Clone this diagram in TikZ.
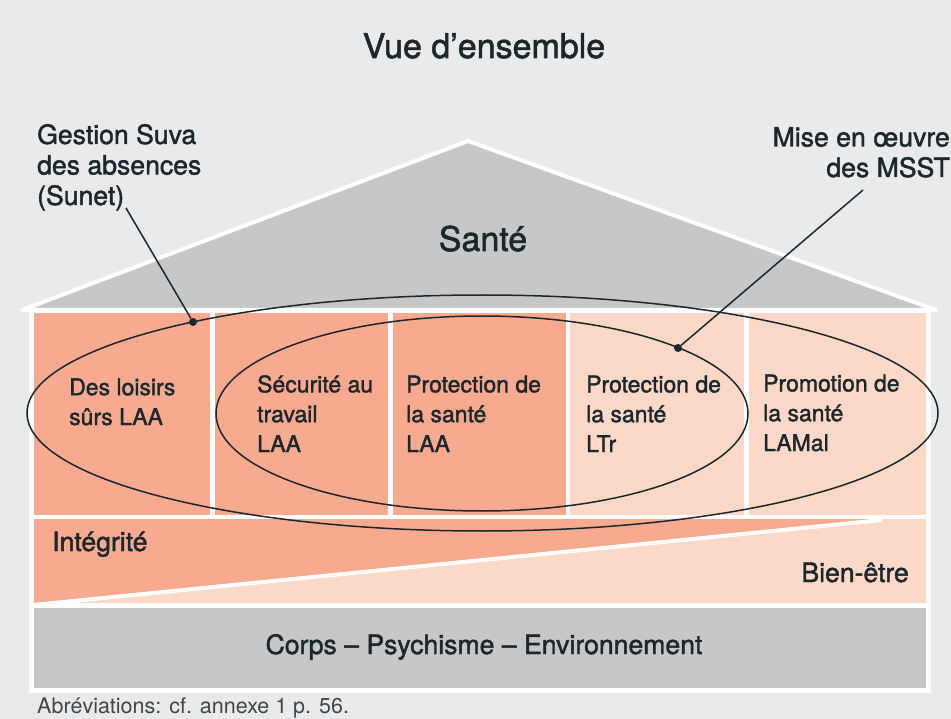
\documentclass[tikz,border=0pt]{standalone}
\usepackage{fontspec}
\setmainfont{TeX Gyre Heros}[FakeBold=1.6]
\newfontfamily\notefont{TeX Gyre Heros}
\definecolor{bggray}{HTML}{E9EAEC}
\definecolor{roofgray}{HTML}{C6C7C9}
\definecolor{salmon}{HTML}{F7AA8F}
\definecolor{pale}{HTML}{FCD8C8}
\definecolor{ink}{HTML}{1C272C}
\tikzset{
  coltext/.style={anchor=base west,inner sep=0,align=left,text=ink,font=\fontsize{23}{29.8}\selectfont},
  bigtext/.style={inner sep=0,text=ink,font=\fontsize{34}{40}\selectfont},
  midtext/.style={inner sep=0,text=ink,font=\fontsize{26.6}{30.5}\selectfont},
  callout/.style={draw=ink,line width=1.5},
  calloutdot/.style={circle,fill=ink,inner sep=0,minimum size=8}
}
\begin{document}
\begin{tikzpicture}[x=1pt,y=-1pt]
%background
\fill[bggray](0,0)rectangle(951,719);
\useasboundingbox(0,0)rectangle(951,719);
%house body
\fill[white](29,310)rectangle(931,693);
%roof
\draw[line width=4,white,fill=roofgray,line join=round](22,310)--(468,141)--(936,310)--cycle;
%pillars
\foreach \xa/\xb/\c in {34/210/salmon,215/388/salmon,393/566/salmon,570/744/pale,749/926/pale}{
\fill[\c](\xa,313)rectangle(\xb,515);
}
%integrity / well-being band
\fill[pale](34,519)rectangle(926,603);
\fill[salmon](34,519)--(880,519)--(34,603)--cycle;
\begin{scope}
\clip(34,519)rectangle(926,603);
\draw[white,line width=4](34,605)--(882,520);
\end{scope}
%foundation
\fill[roofgray](34,608)rectangle(926,688);
%ellipses
\draw[callout](482.5,413)ellipse(455.5 and 118);
\draw[callout](482,413.5)ellipse(266 and 97.5);
%callout lines
\coordinate(sunetend)at(126,208);
\node[calloutdot](sunetdot)at(193,322){};
\draw[callout](sunetend)--(sunetdot);
\coordinate(msstend)at(863,190);
\node[calloutdot](msstdot)at(678,348){};
\draw[callout](msstend)--(msstdot);
%labels (multi-line nodes sit on their last baseline)
\node[bigtext,anchor=base](title)at(484,58){Vue d’ensemble};
\node[bigtext,anchor=base](sante)at(483,251){Santé};
\node[midtext,anchor=base west,align=left](sunet)at(37,205){Gestion Suva\\des absences\\(Sunet)};
\node[midtext,anchor=base east,align=right](msst)at(950,177){Mise en œuvre\\des MSST};
\node[coltext](loisirs)at(69,425){Des loisirs\\sûrs LAA};
\node[coltext](securite)at(257,452){Sécurité au\\travail\\LAA};
\node[coltext](protlaa)at(406,452){Protection de\\la santé\\LAA};
\node[coltext](protltr)at(586,452){Protection de\\la santé\\LTr};
\node[coltext](promo)at(763,451){Promotion de\\la santé\\LAMal};
\node[midtext,anchor=base west](integ)at(52,551){Intégrité};
\node[midtext,anchor=base east](bienetre)at(909,582){Bien-être};
\node[midtext,anchor=base](corps)at(484,654){Corps – Psychisme – Environnement};
\node[inner sep=0,anchor=base west,text=ink!85,font=\notefont\fontsize{21.5}{24}\selectfont](abrev)at(37,713){Abréviations: cf. annexe 1 p. 56.};
\end{tikzpicture}
\end{document}
